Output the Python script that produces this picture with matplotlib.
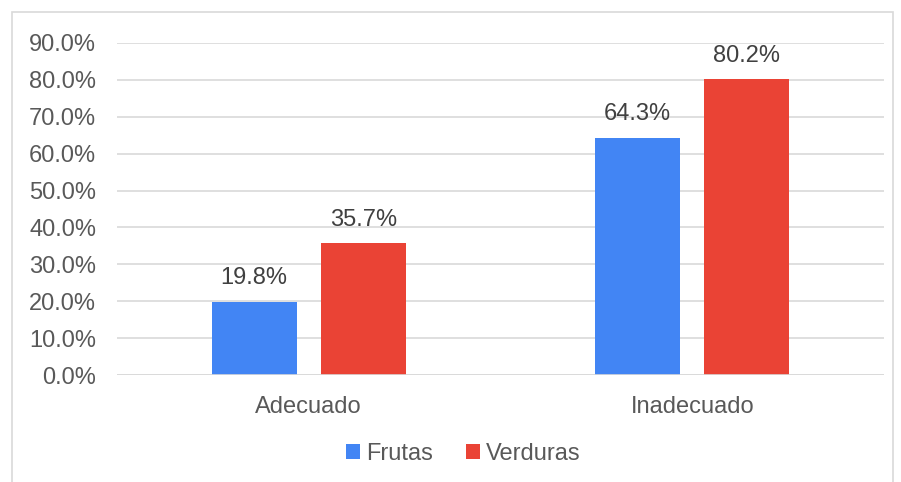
import numpy as np
import matplotlib.pyplot as plt
from matplotlib.patches import Rectangle
from matplotlib.ticker import PercentFormatter

categories = ["Adecuado", "Inadecuado"]
frutas = [0.198, 0.643]
verduras = [0.357, 0.802]
series = ["Frutas", "Verduras"]
colors = ["#4285F4", "#EA4335"]
grey = "#595959"

plt.rcParams['font.family'] = ['Liberation Sans', 'DejaVu Sans']

W, H = 901, 482
fig = plt.figure(figsize=(W / 100, H / 100), dpi=100)
ax = fig.add_axes([117 / W, 1 - 375 / H, (884 - 117) / W, (375 - 43) / H])

x = np.arange(len(categories))
bw = 0.222
off = (bw + 0.0626) / 2
b1 = ax.bar(x - off, frutas, bw, color=colors[0], label=series[0], zorder=3)
b2 = ax.bar(x + off, verduras, bw, color=colors[1], label=series[1], zorder=3)

for bars, vals in ((b1, frutas), (b2, verduras)):
    for b, v in zip(bars, vals):
        ax.annotate(f"{v*100:.1f}%", (b.get_x() + b.get_width() / 2, v),
                    xytext=(0, 9), textcoords="offset points",
                    ha="center", va="bottom", fontsize=17, color="#404040")

ax.set_xlim(-0.5, 1.5)
ax.set_ylim(0, 0.9)
ax.set_yticks(np.arange(0, 0.91, 0.1))
ax.yaxis.set_major_formatter(PercentFormatter(1.0, decimals=1))
ax.set_xticks(x)
ax.set_xticklabels(categories)
ax.tick_params(axis="both", length=0, labelsize=17, labelcolor=grey)
ax.tick_params(axis="y", pad=15)
ax.tick_params(axis="x", pad=15)
ax.grid(axis="y", color="#d9d9d9", linewidth=1.2, zorder=0)
for s in ax.spines.values():
    s.set_visible(False)
ax.axhline(0, color="#d9d9d9", linewidth=1.2, zorder=4)

leg = fig.legend(loc="center", bbox_to_anchor=(463 / W, 1 - 454 / H), ncol=2,
                 frameon=False, fontsize=17, handlelength=0.6, handleheight=0.6,
                 handletextpad=0.25, columnspacing=1.4)
for t in leg.get_texts():
    t.set_color(grey)

fig.add_artist(Rectangle((12 / W, -0.1), (893 - 12) / W, 1 - 12 / H + 0.1,
                         transform=fig.transFigure, fill=False,
                         edgecolor="#d9d9d9", linewidth=1.2))

fig.savefig("out.png", dpi=100)
